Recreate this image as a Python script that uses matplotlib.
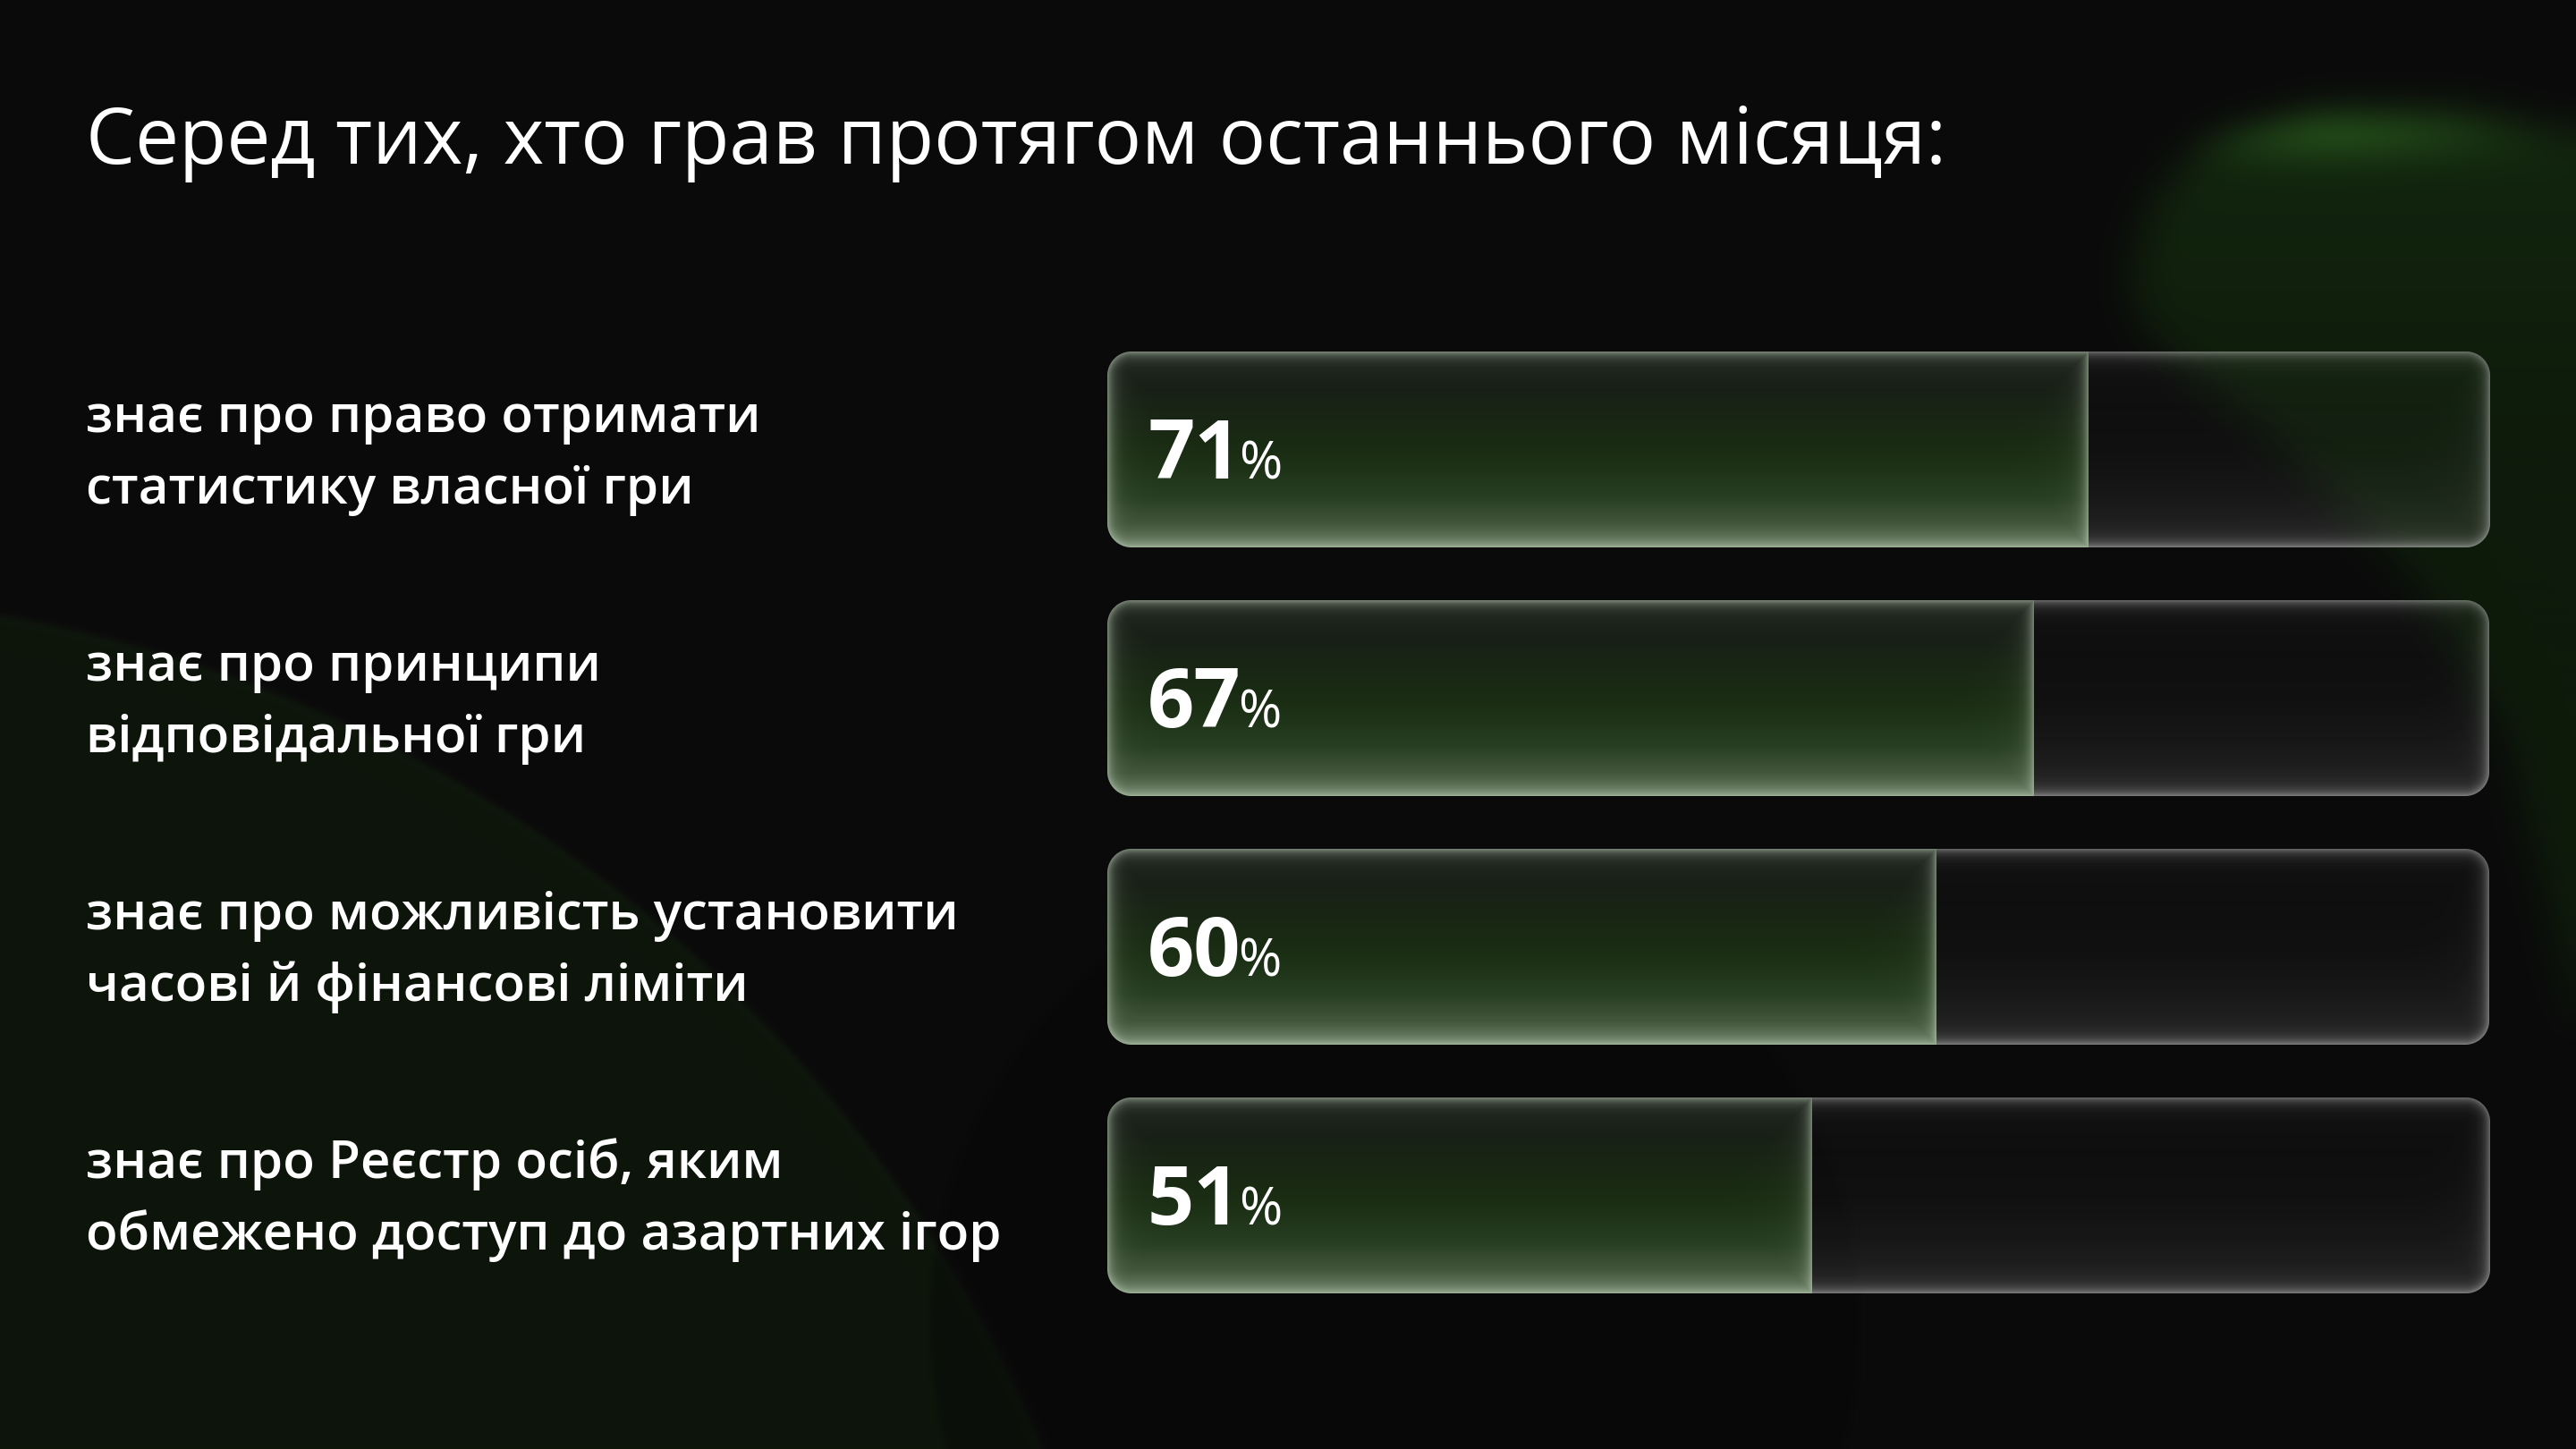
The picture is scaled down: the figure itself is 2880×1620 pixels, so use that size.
import numpy as np
import matplotlib
matplotlib.use("Agg")
import matplotlib.pyplot as plt
from matplotlib.path import Path
from matplotlib import transforms

# ---------------- data ----------------
title = "Серед тих, хто грав протягом останнього місяця:"
labels = [
    ["знає про право отримати", "статистику власної гри"],
    ["знає про принципи", "відповідальної гри"],
    ["знає про можливість установити", "часові й фінансові ліміти"],
    ["знає про Реєстр осіб, яким", "обмежено доступ до азартних ігор"],
]
values = [71, 67, 60, 51]

# ---------------- figure ----------------
W, H = 2880, 1620
DPI = 200
FONT = ["Open Sans", "DejaVu Sans"]
fig = plt.figure(figsize=(W / DPI, H / DPI), dpi=DPI)
fig.patch.set_facecolor("#0a0a0a")


def box_blur(a, r):
    for axis in (0, 1):
        a = np.moveaxis(a, axis, 0)
        pad = np.pad(a, ((r + 1, r),) + ((0, 0),) * (a.ndim - 1), mode="edge")
        c = np.cumsum(pad, axis=0)
        a = (c[2 * r + 1:] - c[:-2 * r - 1]) / (2 * r + 1)
        a = np.moveaxis(a, 0, axis)
    return a


# ---------------- decorative background ----------------
s = 4
bw, bh = W // s, H // s
ys, xs = np.mgrid[0:bh, 0:bw].astype(float)
X = (xs + 0.5) * s
Y = (ys + 0.5) * s
img = np.ones((bh, bw, 3)) * (10 / 255)

# bottom-left large circle
d = np.hypot(X + 269, Y - 2219) - 1552
m = np.clip(0.5 - d / 8, 0, 1)
col_bl = np.array([13, 21, 11]) / 255
img = img * (1 - m[..., None]) + col_bl * m[..., None]
rim = np.exp(-(d / 6) ** 2) * 0.3
img = img * (1 - rim[..., None]) + (np.array([20, 34, 16]) / 255) * rim[..., None]

# faint dark circle in the middle
d2 = np.hypot(X - 1560, Y - 1480) - 520
m2 = np.clip(0.5 - d2 / 4, 0, 1) * 0.35
img = img * (1 - m2[..., None]) + (np.array([7, 7, 7]) / 255) * m2[..., None]

# top-right soft green blob
poly = np.array([(2380, 300), (2410, 215), (2480, 155), (2600, 118), (2750, 120),
                 (2880, 150), (3100, 200), (3100, 1300), (2880, 1150), (2800, 820),
                 (2700, 650), (2560, 510), (2450, 420), (2390, 360)])
inside = Path(poly).contains_points(np.c_[X.ravel(), Y.ravel()]).reshape(bh, bw)
mb = inside.astype(float)
for _ in range(3):
    mb = box_blur(mb, 5)
grad = np.clip((500 - Y) / 350, 0, 1)
col_tr = np.stack([14 + 4 * grad, 27 + 10 * grad, 11 + 3 * grad], -1) / 255
img = img * (1 - mb[..., None]) + col_tr * mb[..., None]
hl = np.exp(-(((X - 2600) / 180) ** 2) - ((Y - 145) / 36) ** 2) * mb
img = img + (np.array([16, 38, 11]) / 255) * hl[..., None]

bg_ax = fig.add_axes([0, 0, 1, 1], zorder=0)
bg_ax.imshow(np.clip(img, 0, 1), extent=(0, 1, 0, 1), aspect="auto",
             interpolation="bilinear")
bg_ax.set_xlim(0, 1)
bg_ax.set_ylim(0, 1)
bg_ax.axis("off")

# ---------------- bar axes ----------------
left_px, right_px = 1238, 2783
first_c, spacing = 502.5, 278.0
bar_px = 219
n = len(values)
ax_top = first_c - spacing / 2
ax_bot = first_c + (n - 0.5) * spacing
ax = fig.add_axes([left_px / W, 1 - ax_bot / H, (right_px - left_px) / W,
                   (ax_bot - ax_top) / H], zorder=1)
ax.patch.set_alpha(0)
ax.axis("off")
bar_h = bar_px / spacing
track_px = right_px - left_px
R = 27


def rounded_seg(wpx, hpx, r, round_left, round_right):
    x = np.arange(wpx) + 0.5
    y = np.arange(hpx) + 0.5
    Xs, Ys = np.meshgrid(x, y)
    big = 1e5
    x0 = 0 if round_left else -big
    x1 = wpx if round_right else wpx + big
    cx, cy = (x0 + x1) / 2, hpx / 2
    hx, hy = (x1 - x0) / 2 - r, hpx / 2 - r
    qx = np.abs(Xs - cx) - hx
    qy = np.abs(Ys - cy) - hy
    sdf = np.hypot(np.maximum(qx, 0), np.maximum(qy, 0)) + np.minimum(np.maximum(qx, qy), 0) - r
    return Xs, Ys, sdf


stops_t = [0.0, 0.2, 0.45, 0.6, 0.75, 0.88, 1.0]
stops_c = np.array([(21, 26, 20), (22, 30, 20), (25, 42, 19), (29, 50, 22),
                    (40, 62, 34), (62, 82, 56), (95, 115, 90)]) / 255


def fill_image(wpx, hpx):
    Xs, Ys, sdf = rounded_seg(wpx, hpx, R, True, False)
    cover = np.clip(0.5 - sdf, 0, 1)
    dd = np.maximum(-sdf, 0)
    dd = np.minimum(dd, wpx - Xs)
    t = Ys / hpx
    base = np.stack([np.interp(t, stops_t, stops_c[:, k]) for k in range(3)], -1)
    glow = 0.45 * np.exp(-dd / 6) + 0.08 * np.exp(-dd / 25)
    glow = np.clip(glow, 0, 1)[..., None]
    tint = np.array([0.85, 0.92, 0.83])
    rgb = base * (1 - glow) + tint * glow
    return np.dstack([rgb, cover])


def track_image(wpx, hpx):
    Xs, Ys, sdf = rounded_seg(wpx, hpx, R, False, True)
    cover = np.clip(0.5 - sdf, 0, 1)
    dd = np.maximum(-sdf, 0)
    t = Ys / hpx
    a = 0.015 + 0.10 * t ** 2.5 + 0.38 * np.exp(-dd / 6) + 0.05 * np.exp(-dd / 25)
    rgb = np.ones(Xs.shape + (3,)) * np.array([0.9, 0.9, 0.9])
    return np.dstack([rgb, np.clip(a, 0, 1) * cover])


for i, v in enumerate(values):
    wf = int(round(v / 100 * track_px))
    ax.imshow(track_image(track_px - wf, bar_px), extent=(v, 100, i + bar_h / 2, i - bar_h / 2),
              aspect="auto", interpolation="antialiased", zorder=2)
    ax.imshow(fill_image(wf, bar_px), extent=(0, v, i + bar_h / 2, i - bar_h / 2),
              aspect="auto", interpolation="antialiased", zorder=3)

ax.set_xlim(0, 100)
ax.set_ylim(n - 0.5, -0.5)

# ---------------- texts ----------------
fig.text(96 / W, 1 - 183 / H, title, color="white", fontsize=31.4, family=FONT,
         ha="left", va="baseline", zorder=5)

lab_tr = transforms.blended_transform_factory(fig.transFigure, ax.transData)
for i, lines in enumerate(labels):
    for k, line in enumerate(lines):
        yb = i + (-19.5 + 80 * k) / spacing
        ax.text(96 / W, yb, line, transform=lab_tr, color="white", fontsize=21,
                family=FONT, fontweight="semibold", ha="left", va="baseline", zorder=5)

num_tr = transforms.offset_copy(ax.transData, fig=fig, x=45 * 72 / DPI, y=0, units="points")
num_texts = []
for i, v in enumerate(values):
    t = ax.text(0, i + 32.5 / spacing, f"{v}", transform=num_tr, color="white",
                fontsize=33, family=FONT, fontweight="bold", ha="left", va="baseline", zorder=6)
    num_texts.append((t, i))

fig.canvas.draw()
renderer = fig.canvas.get_renderer()
for t, i in num_texts:
    bb = t.get_window_extent(renderer)
    yb = ax.transData.transform((0, i + 32.5 / spacing))[1]
    fig.text((bb.x1 - 3) / W, yb / H, "%", color="white", fontsize=21,
             family=FONT, fontweight="normal", ha="left", va="baseline", zorder=6)

fig.savefig("out.png", dpi=DPI, facecolor=fig.get_facecolor())
